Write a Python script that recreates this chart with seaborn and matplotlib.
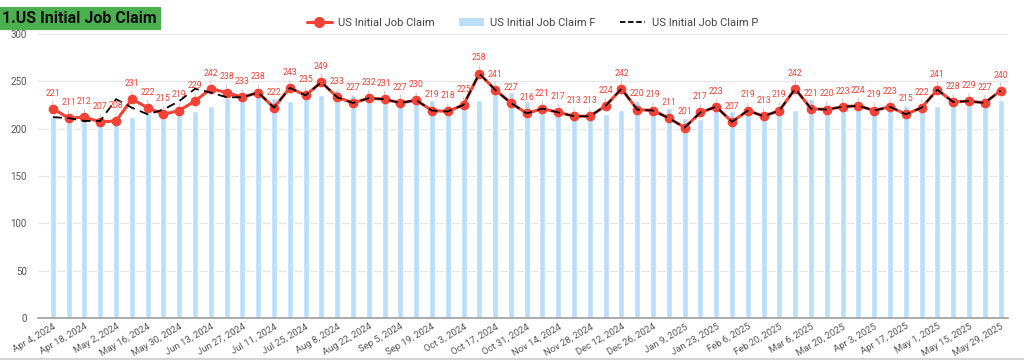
import pandas as pd
import numpy as np
import matplotlib
matplotlib.use('Agg')
import matplotlib.pyplot as plt
import seaborn as sns
from matplotlib.lines import Line2D
from matplotlib.patches import Patch

weeks = pd.date_range('2024-04-04', periods=61, freq='7D')
week_labels = [f"{d:%b} {d.day}, {d.year}" for d in weeks]

actual = [221, 211, 212, 207, 208, 231, 222, 215, 219, 229,
          242, 238, 233, 238, 222, 243, 235, 249, 233, 227,
          232, 231, 227, 230, 219, 218, 225, 258, 241, 227,
          216, 221, 217, 213, 213, 224, 242, 220, 219, 211,
          201, 217, 223, 207, 219, 213, 219, 242, 221, 220,
          223, 224, 219, 223, 215, 222, 241, 228, 229, 227, 240]

forecast = [212, 212, 209, 209, 207, 212, 216, 213, 215, 219,
            224, 232, 232, 234, 232, 229, 233, 235, 241, 235,
            231, 231, 225, 229, 230, 223, 225, 230, 237, 239,
            229, 222, 222, 218, 216, 215, 220, 229, 224, 222,
            211, 210, 221, 218, 216, 215, 215, 220, 231, 224,
            223, 223, 223, 222, 224, 223, 224, 227, 229, 227, 230]

prior = [212, 211, 208, 208, 231, 222, 215, 220, 229, 242,
         238, 233, 233, 238, 222, 243, 235, 249, 233, 227,
         232, 231, 227, 230, 219, 218, 225, 258, 241, 227,
         216, 221, 217, 213, 213, 224, 242, 220, 219, 211,
         201, 217, 223, 207, 219, 213, 219, 242, 221, 220,
         223, 224, 219, 223, 215, 222, 241, 228, 229, 227, 240]

df = pd.DataFrame({'idx': np.arange(len(weeks)), 'week': week_labels,
                   'actual': actual, 'forecast': forecast, 'prior': prior})

RED = '#f44336'
BLUE = '#bbdefb'
GRAY = '#555555'

sns.set_style('white')
plt.rcParams['font.family'] = ['Roboto', 'DejaVu Sans']

fig = plt.figure(figsize=(10.24, 3.6), dpi=100)
ax = fig.add_axes([0.037, 0.117, 0.947, 0.789])

sns.barplot(data=df, x='idx', y='forecast', color=BLUE, width=0.38,
            saturation=1, ax=ax, zorder=2)
sns.lineplot(data=df, x='idx', y='actual', color=RED, lw=2.2, marker='o',
             markersize=7, markeredgewidth=0, ax=ax, zorder=3)
sns.lineplot(data=df, x='idx', y='prior', color='black', lw=1.3,
             linestyle=(0, (5, 3)), ax=ax, zorder=4)

for i, v in zip(df['idx'], df['actual']):
    ax.annotate(str(v), (i, v), xytext=(0, 8), textcoords='offset points',
                ha='center', va='bottom', fontsize=6.3, color=RED,
                arrowprops=dict(arrowstyle='-', color='#bdbdbd', lw=0.6,
                                shrinkA=0, shrinkB=3.5), zorder=5)

ax.set_xlim(-0.95, 60.45)
ax.set_ylim(0, 300)
ax.set_yticks(range(0, 301, 50))
ax.yaxis.grid(True, color='#e6e6e6', lw=0.9, zorder=0)
ax.set_axisbelow(True)
ax.set_xticks(range(0, 61, 2))
ax.set_xticklabels(week_labels[::2], rotation=30, ha='right',
                   rotation_mode='anchor', fontsize=6.8, color=GRAY)
ax.tick_params(axis='y', labelsize=7, colors=GRAY, length=0, pad=8)
ax.tick_params(axis='x', length=0, pad=3)
ax.set_xlabel('')
ax.set_ylabel('')
for s in ['top', 'right', 'left']:
    ax.spines[s].set_visible(False)
ax.spines['bottom'].set_color('#9e9e9e')
ax.spines['bottom'].set_linewidth(1.2)

fig.text(0.002, 0.949, '1.US Initial Job Claim', fontsize=11.5, fontweight='bold',
         color='#111111', va='center', ha='left',
         bbox=dict(boxstyle='square,pad=0.25', fc='#4caf50', ec='none'))

handles = [Line2D([0], [0], color=RED, lw=2.2, marker='o', markersize=7),
           Patch(facecolor=BLUE, edgecolor='none'),
           Line2D([0], [0], color='black', lw=1.3, linestyle=(0, (3, 1.5)))]
fig.legend(handles, ['US Initial Job Claim', 'US Initial Job Claim F',
                     'US Initial Job Claim P'],
           loc='center', bbox_to_anchor=(0.52, 0.937), ncol=3, frameon=False,
           fontsize=8, labelcolor='#444444', handlelength=2.2,
           columnspacing=2.2, handletextpad=0.6)

fig.add_artist(Line2D([0, 1], [0.004, 0.004], color='#cccccc', lw=1.2))

fig.savefig('out.png', dpi=100)
